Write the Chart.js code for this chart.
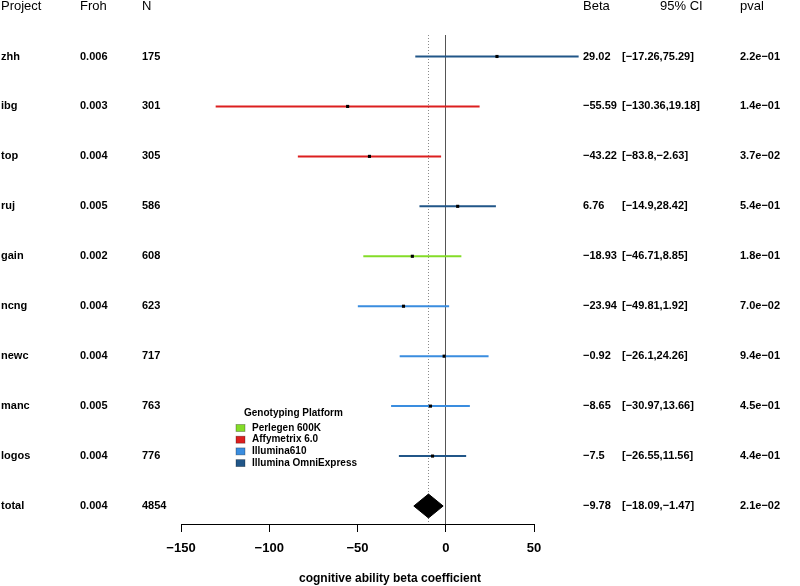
<!DOCTYPE html>
<html>
<head>
<meta charset="utf-8">
<title>Forest plot - cognitive ability</title>
<script src="https://cdn.jsdelivr.net/npm/chart.js@4/dist/chart.umd.min.js"></script>
<style>
  html, body { margin: 0; padding: 0; background: #fff; }
</style>
</head>
<body>
<canvas id="forest" width="800" height="586"></canvas>
<script>
// Study rows (last row is the pooled estimate)
const PROJECTS = ['zhh', 'ibg', 'top', 'ruj', 'gain', 'ncng', 'newc', 'manc', 'logos', 'total'];
const FROH = ['0.006', '0.003', '0.004', '0.005', '0.002', '0.004', '0.004', '0.005', '0.004', '0.004'];
const N_SIZES = [175, 301, 305, 586, 608, 623, 717, 763, 776, 4854];
const BETAS = [29.02, -55.59, -43.22, 6.76, -18.93, -23.94, -0.92, -8.65, -7.5, -9.78];
const CI_LOW = [-17.26, -130.36, -83.8, -14.9, -46.71, -49.81, -26.1, -30.97, -26.55, -18.09];
const CI_HIGH = [75.29, 19.18, -2.63, 28.42, 8.85, 1.92, 24.26, 13.66, 11.56, -1.47];
const PVALS = ['2.2e-01', '1.4e-01', '3.7e-02', '5.4e-01', '1.8e-01', '7.0e-02', '9.4e-01', '4.5e-01', '4.4e-01', '2.1e-02'];
const PLATFORMS = ['omni', 'affy', 'affy', 'omni', 'perlegen', 'ill610', 'ill610', 'ill610', 'omni'];

const X_TICKS = [-150, -100, -50, 0, 50];

const PLATFORM_NAMES = {
    perlegen: 'Perlegen 600K',
    affy: 'Affymetrix 6.0',
    ill610: 'Illumina610',
    omni: 'Illumina OmniExpress',
};

const PLATFORM_COLORS = {
    perlegen: '#84dc28',
    affy: '#dc1f1f',
    ill610: '#3a8ddf',
    omni: '#215688',
};

const FONT = "'Liberation Sans', Arial, sans-serif";
const COLS = { project: 1, froh: 80, n: 142, beta: 583, ci: 622, ciHead: 660, pval: 740 };

// R prints negative numbers with a real minus sign
function minus(s) {
    return String(s).replace(/-/g, '\u2212');
}

const TOTAL = PROJECTS.length - 1;

/**
 * One horizontal CI segment per study.
 */
const ciSets = PROJECTS.slice(0, TOTAL).map((p, i) => ({
    label: p,
    data: [{ x: CI_LOW[i], y: i }, { x: CI_HIGH[i], y: i }],
    borderColor: PLATFORM_COLORS[PLATFORMS[i]],
    borderWidth: 2,
    pointRadius: 0,
    clip: false,
    order: 3,
}));

const pointSet = {
    label: 'beta',
    data: BETAS.slice(0, TOTAL).map((b, i) => ({ x: b, y: i })),
    showLine: false,
    pointStyle: 'rect',
    pointRadius: 2.2,
    pointBackgroundColor: '#000',
    pointBorderWidth: 0,
    order: 1,
};

// pooled estimate as a diamond spanning its CI
const DIAMOND_HALF = 0.24;
const diamondSet = {
    label: 'total',
    data: [
        { x: CI_LOW[TOTAL], y: TOTAL },
        { x: BETAS[TOTAL], y: TOTAL - DIAMOND_HALF },
        { x: CI_HIGH[TOTAL], y: TOTAL },
        { x: BETAS[TOTAL], y: TOTAL + DIAMOND_HALF },
        { x: CI_LOW[TOTAL], y: TOTAL },
    ],
    borderColor: '#000',
    backgroundColor: '#000',
    borderWidth: 1,
    pointRadius: 0,
    fill: 'shape',
    order: 0,
};

const Y_MIN = -0.43;
const Y_MAX = 9.36;

const summaryLine = {
    label: 'summary',
    data: [{ x: BETAS[TOTAL], y: Y_MIN }, { x: BETAS[TOTAL], y: Y_MAX }],
    borderColor: '#8a8a8a',
    borderWidth: 1,
    borderDash: [1, 2],
    pointRadius: 0,
    order: 5,
};

/**
 * Text columns, legend and axis caption.
 */
const forestText = {
    id: 'forestText',
    afterDraw(chart) {
        const ctx = chart.ctx;
        const ys = chart.scales.y;
        ctx.save();
        ctx.fillStyle = '#000';
        ctx.textBaseline = 'middle';
        ctx.textAlign = 'left';

        ctx.font = `13px ${FONT}`;
        const hy = 6;
        ctx.fillText('Project', COLS.project, hy);
        ctx.fillText('Froh', COLS.froh, hy);
        ctx.fillText('N', COLS.n, hy);
        ctx.fillText('Beta', COLS.beta, hy);
        ctx.fillText('95% CI', COLS.ciHead, hy);
        ctx.fillText('pval', COLS.pval, hy);

        ctx.font = `bold 11px ${FONT}`;
        PROJECTS.forEach((p, i) => {
            const y = ys.getPixelForValue(i);
            ctx.fillText(p, COLS.project, y);
            ctx.fillText(FROH[i], COLS.froh, y);
            ctx.fillText(String(N_SIZES[i]), COLS.n, y);
            ctx.fillText(minus(BETAS[i]), COLS.beta, y);
            ctx.fillText(minus(`[${CI_LOW[i]},${CI_HIGH[i]}]`), COLS.ci, y);
            ctx.fillText(minus(PVALS[i]), COLS.pval, y);
        });

        // legend
        ctx.font = `bold 10px ${FONT}`;
        ctx.fillText('Genotyping Platform', 244, 413);
        Object.keys(PLATFORM_NAMES).forEach((k, i) => {
            const y = 428 + i * 11.7;
            ctx.fillStyle = PLATFORM_COLORS[k];
            ctx.fillRect(236, y - 3.5, 9, 7);
            ctx.strokeStyle = 'rgba(0,0,0,0.35)';
            ctx.lineWidth = 0.8;
            ctx.strokeRect(236, y - 3.5, 9, 7);
            ctx.fillStyle = '#000';
            ctx.fillText(PLATFORM_NAMES[k], 252, y);
        });

        ctx.font = `bold 12px ${FONT}`;
        ctx.textAlign = 'center';
        ctx.fillText('cognitive ability beta coefficient', 390, 579);
        ctx.restore();
    }
};

new Chart(document.getElementById('forest'), {
    type: 'line',
    data: { datasets: [...ciSets, pointSet, diamondSet, summaryLine] },
    options: {
        responsive: false,
        animation: false,
        layout: { padding: { left: 181, right: 266, top: 35, bottom: 0 } },
        plugins: {
            legend: { display: false },
            tooltip: { enabled: false },
        },
        scales: {
            x: {
                type: 'linear',
                min: X_TICKS[0],
                max: X_TICKS[X_TICKS.length - 1],
                afterFit: (s) => { s.height = 62; },
                afterBuildTicks: (s) => { s.ticks = X_TICKS.map(v => ({ value: v })); },
                border: { display: true, color: '#000', width: 1 },
                grid: {
                    color: (c) => (c.tick && c.tick.value === 0 ? '#555' : 'rgba(0,0,0,0)'),
                    tickColor: '#000',
                    tickLength: 8,
                    lineWidth: 1,
                },
                ticks: {
                    padding: 9,
                    color: '#000',
                    maxRotation: 0,
                    autoSkip: false,
                    font: { family: FONT, size: 13, weight: 'bold' },
                    callback: (v) => minus(v),
                },
            },
            y: {
                type: 'linear',
                min: Y_MIN,
                max: Y_MAX,
                reverse: true,
                display: false,
            },
        },
    },
    plugins: [forestText],
});
</script>
</body>
</html>
